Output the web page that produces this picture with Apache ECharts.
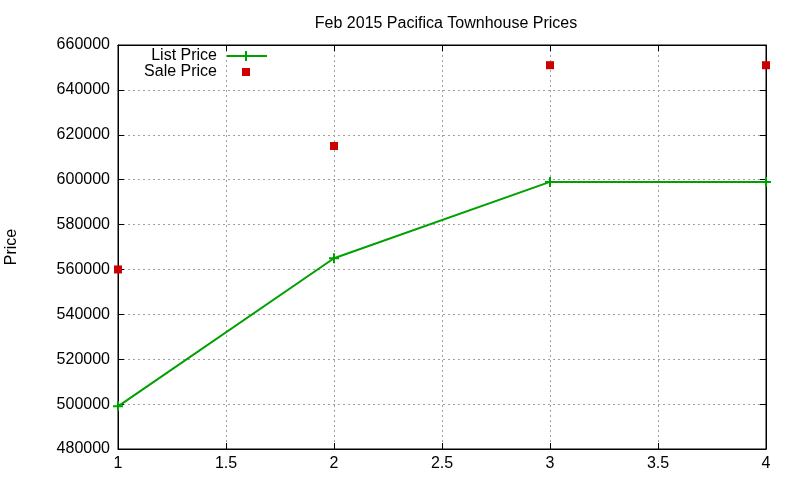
<!DOCTYPE html>
<html>
<head>
<meta charset="utf-8">
<script src="https://cdn.jsdelivr.net/npm/echarts@6/dist/echarts.min.js"></script>
<style>
  html, body { margin: 0; padding: 0; background: #fff; }
  #main { width: 800px; height: 480px; }
</style>
</head>
<body>
<div id="main"></div>
<script>
const myChart = echarts.init(document.querySelector('#main'))

const xValues = [1, 2, 3, 4]
const listPrice = [499000, 565000, 599000, 599000]
const salePrice = [560000, 615000, 651000, 651000]

const font = 'Liberation Sans, Arial, sans-serif'
const fs = 16
const green = '#00a000'
const red = '#cc0000'
const plus = 'path://M4,0H6V4H10V6H6V10H4V6H0V4H4Z'

const gridLine = { show: true, lineStyle: { color: '#a0a0a0', type: [2, 3], width: 1 } }
const tick = { show: true, inside: true, length: 6, lineStyle: { color: '#000' } }

let option = {
  animation: false,
  title: {
    text: 'Feb 2015 Pacifica Townhouse Prices',
    left: 441, top: 11, textAlign: 'center',
    textStyle: { fontFamily: font, fontSize: fs, fontWeight: 'normal', color: '#000' }
  },
  grid: {
    left: 118, right: 34, top: 45, bottom: 31, outerBoundsMode: 'none',
    show: true, borderColor: '#000', borderWidth: 1
  },
  xAxis: [
    {
      type: 'value', min: 1, max: 4, interval: 0.5,
      axisLine: { show: true, onZero: false, lineStyle: { color: '#000' } },
      axisTick: tick, splitLine: gridLine,
      axisLabel: { color: '#000', fontFamily: font, fontSize: fs, margin: 7 }
    },
    {
      type: 'value', position: 'top', min: 1, max: 4, interval: 0.5,
      axisLine: { show: true, lineStyle: { color: '#000' } },
      axisTick: tick, axisLabel: { show: false }, splitLine: { show: false }
    }
  ],
  yAxis: [
    {
      type: 'value', min: 480000, max: 660000, interval: 20000,
      name: 'Price', nameLocation: 'middle', nameGap: 98, nameRotate: 90,
      nameTextStyle: { color: '#000', fontFamily: font, fontSize: fs },
      axisLine: { show: true, lineStyle: { color: '#000' } },
      axisTick: tick, splitLine: gridLine,
      axisLabel: { color: '#000', fontFamily: font, fontSize: fs, margin: 8, formatter: v => String(v) }
    },
    {
      type: 'value', position: 'right', min: 480000, max: 660000, interval: 20000,
      axisLine: { show: true, lineStyle: { color: '#000' } },
      axisTick: tick, axisLabel: { show: false }, splitLine: { show: false }
    }
  ],
  graphic: [
    { type: 'text', x: 217, y: 56, style: { text: 'List Price', fill: '#000', font: fs + 'px ' + font, textAlign: 'right', textVerticalAlign: 'middle' } },
    { type: 'text', x: 217, y: 72, style: { text: 'Sale Price', fill: '#000', font: fs + 'px ' + font, textAlign: 'right', textVerticalAlign: 'middle' } },
    { type: 'line', shape: { x1: 226, y1: 56, x2: 267, y2: 56 }, style: { stroke: green, lineWidth: 2 } },
    { type: 'line', shape: { x1: 246, y1: 51, x2: 246, y2: 61 }, style: { stroke: green, lineWidth: 2 } },
    { type: 'rect', shape: { x: 242, y: 68, width: 8, height: 8 }, style: { fill: red } }
  ],
  series: [
    {
      name: 'List Price', type: 'line',
      data: xValues.map((x, i) => [x, listPrice[i]]),
      symbol: plus, symbolSize: 10,
      lineStyle: { color: green, width: 2 },
      itemStyle: { color: green, opacity: 1 },
      clip: false
    },
    {
      name: 'Sale Price', type: 'scatter',
      data: xValues.map((x, i) => [x, salePrice[i]]),
      symbol: 'rect', symbolSize: 8,
      itemStyle: { color: red, opacity: 1 },
      clip: false
    }
  ]
};
option && myChart.setOption(option);
</script>
</body>
</html>
